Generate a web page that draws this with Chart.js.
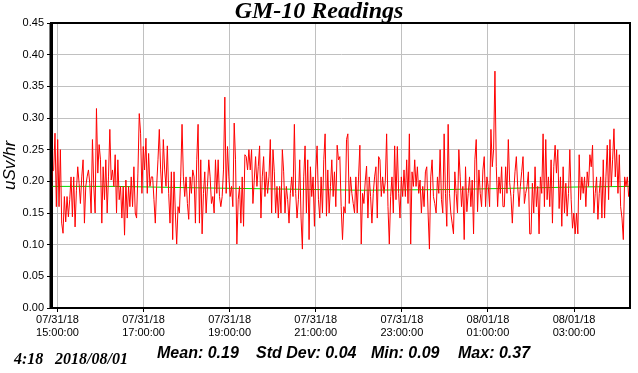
<!DOCTYPE html>
<html>
<head>
<meta charset="utf-8">
<script src="https://cdn.jsdelivr.net/npm/chart.js@4.4.0/dist/chart.umd.min.js"></script>
<style>
  html, body { margin: 0; padding: 0; background: #fff; }
  #wrap { position: relative; width: 638px; height: 373px; overflow: hidden; }
  #grafico { position: absolute; left: 0; top: 0; }
  .txt { position: absolute; white-space: pre; color: #000; line-height: 16px; }
  #titulo { left: 0; width: 638px; top: -4px; text-align: center; font: italic bold 24px "Liberation Serif", serif; line-height: 28px; }
  .serif { font: italic bold 16px "Liberation Serif", serif; top: 350px; }
  .stat { font: italic bold 16px "Liberation Sans", sans-serif; top: 344px; }
</style>
</head>
<body>
<div id="wrap">
  <canvas id="grafico" width="638" height="373"></canvas>
  <div id="titulo" class="txt">GM-10 Readings</div>
  <div class="txt serif" style="left:14px">4:18</div>
  <div class="txt serif" style="left:55px">2018/08/01</div>
  <div class="txt stat" style="left:157px">Mean: 0.19</div>
  <div class="txt stat" style="left:256px">Std Dev: 0.04</div>
  <div class="txt stat" style="left:371px">Min: 0.09</div>
  <div class="txt stat" style="left:458px">Max: 0.37</div>
</div>
<script>
// Leituras (uSv/hr), espaçadas igualmente de 14:51 até 04:18
const readings = [
  0.150,0.215,0.218,0.276,0.160,0.266,0.160,0.250,0.134,0.118,0.176,0.136,0.176,0.144,0.171,0.207,0.144,0.207,0.128,0.186,
  0.223,0.197,0.165,0.207,0.234,0.134,0.192,0.207,0.218,0.197,0.150,0.266,0.192,0.150,0.315,0.213,0.258,
  0.234,0.134,0.223,0.171,0.234,0.150,0.207,0.282,0.202,0.218,0.192,0.242,0.150,0.234,0.171,0.192,0.142,0.192,0.115,0.202,
  0.142,0.192,0.160,0.207,0.160,0.223,0.150,0.142,0.213,0.307,0.276,0.181,0.255,0.218,0.268,0.181,0.244,0.192,0.207,
  0.207,0.171,0.134,0.192,0.234,0.282,0.218,0.181,0.266,0.218,0.192,0.256,0.181,0.134,0.215,0.108,0.215,0.150,0.101,0.160,
  0.150,0.207,0.290,0.207,0.176,0.207,0.165,0.140,0.207,0.181,0.218,0.207,0.134,0.234,0.290,0.134,0.234,0.117,0.181,0.215,
  0.150,0.192,0.234,0.207,0.165,0.176,0.150,0.234,0.181,0.234,0.176,0.160,0.176,0.218,0.333,0.181,0.255,0.207,0.176,0.192,
  0.160,0.292,0.234,0.101,0.171,0.192,0.134,0.207,
  0.129,0.242,0.239,0.218,0.250,0.218,0.250,0.165,0.202,0.239,0.192,0.223,0.256,0.142,0.207,0.239,0.176,0.215,0.181,0.207,
  0.266,0.150,0.250,0.215,0.150,0.192,0.142,0.192,0.150,0.250,0.215,0.150,0.192,0.171,0.134,0.181,0.207,0.176,0.290,0.181,
  0.142,0.171,0.234,0.142,0.093,0.207,0.256,0.150,0.234,0.108,0.223,0.176,0.207,0.129,0.218,0.256,0.171,0.142,0.207,0.150,
  0.234,0.275,0.145,0.218,0.150,0.192,0.234,0.176,0.215,0.160,
  0.257,0.234,0.239,0.160,0.108,0.160,0.150,0.266,0.275,0.165,0.207,0.181,0.165,0.150,0.207,0.150,0.207,0.257,0.101,0.181,
  0.165,0.200,0.224,0.142,0.207,0.176,0.134,0.181,0.207,0.223,0.142,0.239,0.234,0.176,0.207,0.181,0.200,0.275,0.160,0.101,
  0.176,0.207,0.150,0.256,0.171,0.255,0.181,0.142,0.207,0.176,0.218,0.176,0.234,0.165,0.275,0.101,0.215,0.192,0.234,0.192,
  0.223,0.181,0.202,0.150,0.192,0.160,0.215,0.223,0.150,0.093,0.207,0.234,0.176,0.165,
  0.150,0.207,0.181,0.250,0.171,0.150,0.275,0.181,0.129,0.290,0.181,0.150,0.134,0.117,0.215,0.181,0.150,0.250,0.207,0.160,
  0.192,0.108,0.223,0.152,0.181,0.207,0.160,0.202,0.117,0.234,0.266,0.152,0.218,0.181,0.160,0.218,0.239,0.160,0.207,0.192,
  0.160,0.282,0.223,0.250,0.374,0.223,0.160,0.207,0.181,0.223,0.160,0.160,0.223,0.181,0.266,0.198,0.176,0.134,0.181,0.215,
  0.239,0.192,0.160,0.192,0.215,0.239,0.165,0.181,0.192,0.215,0.117,
  0.117,0.197,0.150,0.223,0.160,0.192,0.117,0.207,0.181,0.275,0.160,0.266,0.171,0.207,0.160,0.234,0.134,0.223,0.257,0.213,
  0.250,0.157,0.207,0.129,0.223,0.150,0.197,0.145,0.181,0.250,0.171,0.126,0.150,0.117,0.150,0.117,0.242,0.171,0.207,0.181,
  0.207,0.160,0.215,0.192,0.242,0.223,0.257,0.150,0.181,0.207,0.140,0.181,0.207,0.142,0.234,0.142,0.207,0.257,0.171,0.266,
  0.192,0.234,0.283,0.207,0.250,0.181,0.242,0.160,0.142,0.108,0.207,0.192,0.207,0.176,0.192
];

// minutos contados a partir de 14:51
const spanMinutes = 807;

// linha verde da média
const meanMinutes = [0, 90, 190, 310, 430, 550, 640, 730, 807];
const meanValues = [0.192, 0.192, 0.190, 0.188, 0.186, 0.187, 0.189, 0.191, 0.192];

// eixo X
const tickMinutes = [9, 129, 249, 369, 489, 609, 729];
const tickDates = ['07/31/18', '07/31/18', '07/31/18', '07/31/18', '07/31/18', '08/01/18', '08/01/18'];
const tickTimes = ['15:00:00', '17:00:00', '19:00:00', '21:00:00', '23:00:00', '01:00:00', '03:00:00'];

// eixo Y
const yMin = 0, yMax = 0.45, yStep = 0.05;

const passo = spanMinutes / (readings.length - 1);
const pontos = readings.map((v, i) => ({ x: i * passo, y: v }));
const media = meanMinutes.map((m, i) => ({ x: m, y: meanValues[i] }));

// moldura preta em volta da área do gráfico
const moldura = {
  id: 'moldura',
  afterDraw(chart) {
    const { ctx, chartArea: a } = chart;
    ctx.save();
    ctx.strokeStyle = '#000';
    ctx.lineWidth = 2;
    ctx.strokeRect(a.left, a.top, a.right - a.left, a.bottom - a.top);
    ctx.lineWidth = 3;
    ctx.beginPath();
    ctx.moveTo(a.left, a.top);
    ctx.lineTo(a.left, a.bottom + 1);
    ctx.stroke();
    ctx.restore();
  }
};

new Chart(document.getElementById('grafico'), {
  type: 'line',
  data: {
    datasets: [
      { data: pontos, borderColor: '#ff0000', borderWidth: 1, pointRadius: 0, tension: 0 },
      { data: media, borderColor: '#00dd00', borderWidth: 1, pointRadius: 0, tension: 0 }
    ]
  },
  options: {
    responsive: false,
    animation: false,
    devicePixelRatio: 1,
    layout: { padding: { top: 23, right: 8, left: 0, bottom: 0 } },
    plugins: { legend: { display: false }, tooltip: { enabled: false } },
    scales: {
      x: {
        type: 'linear',
        min: 0,
        max: spanMinutes,
        afterBuildTicks: s => { s.ticks = tickMinutes.map(v => ({ value: v })); },
        afterFit: s => { s.height = 65; },
        grid: { color: '#c0c0c0', tickColor: '#000', tickLength: 4 },
        border: { color: '#000', width: 2 },
        ticks: {
          autoSkip: false,
          maxRotation: 0,
          padding: 1,
          color: '#000',
          font: { family: 'Liberation Sans', size: 11, lineHeight: 1.2 },
          callback: v => {
            const i = tickMinutes.indexOf(v);
            return i < 0 ? '' : [tickDates[i], tickTimes[i]];
          }
        }
      },
      y: {
        min: yMin,
        max: yMax,
        afterFit: s => { s.width = 51; },
        grid: { color: '#c0c0c0', tickColor: '#000', tickLength: 4 },
        border: { color: '#000', width: 3 },
        title: {
          display: true,
          text: 'uSv/hr',
          color: '#000',
          padding: 0,
          font: { family: 'Liberation Sans', size: 17, style: 'italic', lineHeight: 1.2 }
        },
        ticks: {
          stepSize: yStep,
          padding: 3,
          color: '#000',
          font: { family: 'Liberation Sans', size: 11 },
          callback: v => v.toFixed(2)
        }
      }
    }
  },
  plugins: [moldura]
});
</script>
</body>
</html>
